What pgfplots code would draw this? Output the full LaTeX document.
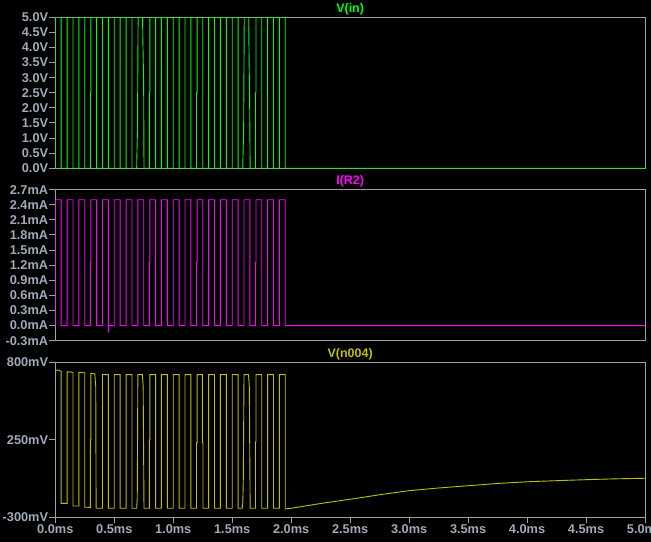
\documentclass[border=0pt]{standalone}
\usepackage{pgfplots}
\pgfplotsset{compat=1.18}
\usepackage{fontspec}
\setmainfont{Liberation Sans}
\definecolor{lbl}{RGB}{160,170,185}
\definecolor{frm}{RGB}{160,160,160}
\definecolor{tg}{RGB}{0,255,0}
\definecolor{tm}{RGB}{255,0,255}
\definecolor{ty}{RGB}{192,192,0}
\begin{document}
\begin{tikzpicture}[x=1bp,y=1bp]
\fill[black] (0,0) rectangle (651,542);
\path[use as bounding box] (0,0) rectangle (651,542);
\pgfplotsset{
  ltstyle/.style={
    scale only axis, width=589.7bp, xmin=0, xmax=5,
    axis line style={frm, line width=1bp},
    tick style={frm, line width=1bp},
    major tick length=6bp, tick align=outside,
    ytick pos=left, xtick pos=bottom,
    ticklabel style={font=\fontsize{12.8}{14}\selectfont\bfseries, text=lbl, inner sep=1bp},
    title style={at={(0.5,1)}, anchor=center, yshift=2.5bp, font=\fontsize{12.5}{14}\selectfont\bfseries},
  }
}
% Panel 1: V(in)
\begin{axis}[ltstyle, at={(55.3bp,373.7bp)}, anchor=south west, height=151bp,
  ymin=0, ymax=5, xtick=\empty,
  ytick={0,0.5,1,1.5,2,2.5,3,3.5,4,4.5,5},
  yticklabels={0.0V,0.5V,1.0V,1.5V,2.0V,2.5V,3.0V,3.5V,4.0V,4.5V,5.0V},
  title={V(in)}, title style={text=tg}]
\addplot[tg, line width=0.9bp] coordinates {
(0,0)(0,5)(0.05,5)(0.05,0)(0.1,0)(0.1,5)(0.15,5)(0.15,0)(0.2,0)(0.2,5)(0.25,5)(0.25,0)
(0.297,0)(0.297,2.5)(0.302,2.5)(0.302,5)(0.35,5)(0.35,0)(0.4,0)(0.4,5)(0.45,5)(0.45,0)
(0.5,0)(0.5,5)(0.55,5)(0.55,0)(0.6,0)(0.6,5)(0.65,5)(0.65,0)
(0.690,0)(0.691,0.31)(0.697,1.27)(0.702,5)(0.740,5)(0.742,4.28)(0.749,2.89)(0.752,0)
(0.797,0)(0.797,2.5)(0.802,2.5)(0.802,5)(0.85,5)(0.85,0)(0.9,0)(0.9,5)(0.95,5)(0.95,0)
(1.0,0)(1.0,5)(1.05,5)(1.05,0)(1.1,0)(1.1,5)(1.15,5)(1.15,0)
(1.197,0)(1.197,2.5)(1.202,2.5)(1.202,5)(1.25,5)(1.25,0)(1.3,0)(1.3,5)(1.35,5)(1.35,0)
(1.4,0)(1.4,5)(1.45,5)(1.45,0)(1.5,0)(1.5,5)(1.55,5)(1.55,0)
(1.590,0)(1.591,0.31)(1.597,1.27)(1.602,5)(1.640,5)(1.642,4.0)(1.648,2.1)(1.652,0)
(1.697,0)(1.697,2.5)(1.702,2.5)(1.702,5)(1.75,5)(1.75,0)(1.8,0)(1.8,5)(1.85,5)(1.85,0)
(1.9,0)(1.9,5)(1.95,5)(1.95,0)(5,0)};
\end{axis}
% Panel 2: I(R2)
\begin{axis}[ltstyle, at={(55.3bp,201.3bp)}, anchor=south west, height=151bp,
  ymin=-0.3, ymax=2.7, xtick=\empty,
  ytick={-0.3,0,0.3,0.6,0.9,1.2,1.5,1.8,2.1,2.4,2.7},
  yticklabels={-0.3mA,0.0mA,0.3mA,0.6mA,0.9mA,1.2mA,1.5mA,1.8mA,2.1mA,2.4mA,2.7mA},
  title={I(R2)}, title style={text=tm}]
\addplot[tm, line width=0.9bp] coordinates {
(0,0)(0,2.5)(0.05,2.5)(0.05,0)(0.1,0)(0.1,2.5)(0.15,2.5)(0.15,0)(0.2,0)(0.2,2.5)(0.25,2.5)(0.25,0)
(0.297,0)(0.297,1.25)(0.302,1.25)(0.302,2.5)(0.35,2.5)(0.35,0)(0.4,0)(0.4,2.5)(0.45,2.5)(0.45,-0.14)(0.453,0)
(0.5,0)(0.5,2.5)(0.55,2.5)(0.55,0)(0.6,0)(0.6,2.5)(0.65,2.5)(0.65,0)(0.7,0)(0.7,2.5)(0.75,2.5)(0.75,0)
(0.797,0)(0.797,1.25)(0.802,1.25)(0.802,2.5)(0.85,2.5)(0.85,0)(0.9,0)(0.9,2.5)(0.95,2.5)(0.95,0)
(1.0,0)(1.0,2.5)(1.05,2.5)(1.05,0)(1.1,0)(1.1,2.5)(1.15,2.5)(1.15,0)
(1.197,0)(1.197,1.25)(1.202,1.25)(1.202,2.5)(1.25,2.5)(1.25,0)(1.3,0)(1.3,2.5)(1.35,2.5)(1.35,0)
(1.4,0)(1.4,2.5)(1.45,2.5)(1.45,0)(1.5,0)(1.5,2.5)(1.55,2.5)(1.55,0)(1.6,0)(1.6,2.5)(1.65,2.5)(1.65,0)
(1.697,0)(1.697,1.25)(1.702,1.25)(1.702,2.5)(1.75,2.5)(1.75,0)(1.8,0)(1.8,2.5)(1.85,2.5)(1.85,0)
(1.9,0)(1.9,2.5)(1.95,2.5)(1.95,0)(5,0)};
\end{axis}
% Panel 3: V(n004)
\begin{axis}[ltstyle, at={(55.3bp,24.7bp)}, anchor=south west, height=155bp,
  ymin=-300, ymax=800,
  ytick={-300,250,800}, yticklabels={-300mV,250mV,800mV},
  xtick={0,0.5,1,1.5,2,2.5,3,3.5,4,4.5,5},
  xticklabels={0.0ms,0.5ms,1.0ms,1.5ms,2.0ms,2.5ms,3.0ms,3.5ms,4.0ms,4.5ms,5.0ms},
  title={V(n004)}, title style={text=ty}]
\addplot[ty, line width=0.9bp] coordinates {
(0,745)(0.035,743)(0.04,738)(0.05,738)(0.05,-201)(0.1,-201)
(0.1,733)(0.15,729)(0.15,-220)(0.2,-220)
(0.2,729)(0.25,725)(0.25,-228)(0.297,-230)(0.297,250)(0.302,250)(0.302,722)(0.335,718)(0.343,627)(0.346,-236)(0.4,-236)
(0.4,714)(0.45,712)(0.45,-236)(0.5,-236)(0.5,712)(0.55,712)(0.55,-236)(0.6,-236)(0.6,712)(0.65,712)(0.65,-236)
(0.690,-236)(0.695,-165)(0.700,712)(0.738,712)(0.745,630)(0.752,-236)
(0.797,-236)(0.797,250)(0.802,250)(0.802,712)(0.85,712)(0.85,-236)(0.9,-236)(0.9,712)(0.95,712)(0.95,-236)
(1.0,-236)(1.0,712)(1.05,712)(1.05,-236)(1.1,-236)(1.1,712)(1.15,712)(1.15,-236)
(1.197,-236)(1.197,230)(1.202,230)(1.202,712)(1.247,712)(1.247,230)(1.252,230)(1.252,-236)(1.3,-236)(1.3,712)(1.35,712)(1.35,-236)
(1.4,-236)(1.4,712)(1.45,712)(1.45,-236)(1.5,-236)(1.5,712)(1.55,712)(1.55,-236)
(1.585,-236)(1.590,-189)(1.594,-35)(1.600,712)(1.638,712)(1.645,627)(1.652,-236)
(1.697,-236)(1.697,236)(1.702,236)(1.702,712)(1.75,712)(1.75,-236)(1.8,-236)(1.8,712)(1.85,712)(1.85,-236)
(1.9,-236)(1.9,712)(1.95,712)(1.95,-240)(2.0,-236)(2.25,-202)(2.5,-172)(2.75,-140)(3.0,-111)(3.25,-92)(3.5,-76)(3.75,-60)(4.0,-48)(4.25,-40)(4.5,-33)(4.75,-27)(5.0,-23)};
\end{axis}
\end{tikzpicture}
\end{document}
